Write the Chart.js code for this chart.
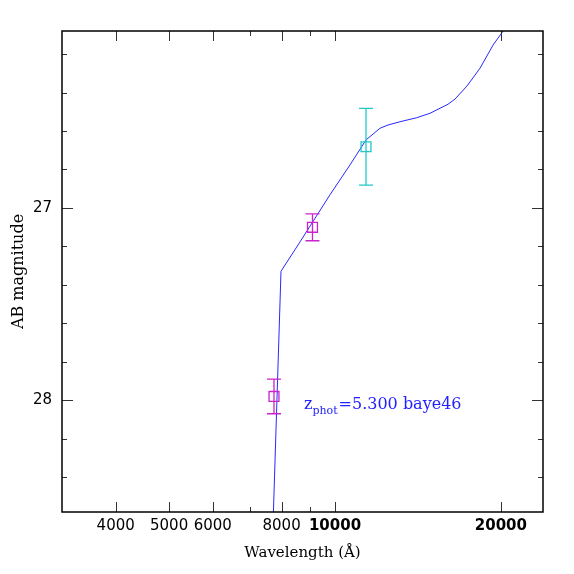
<!DOCTYPE html>
<html><head><meta charset="utf-8">
<script src="https://cdn.jsdelivr.net/npm/chart.js@4.4.1/dist/chart.umd.min.js"></script>
<style>html,body{margin:0;padding:0;background:#fff}#wrap{width:574px;height:574px}</style>
</head><body><div id="wrap"><canvas id="c" width="574" height="574"></canvas></div>
<script>
// Model SED (wavelength in Angstrom, AB magnitude)
const SED_LAMBDA = [7650, 7980, 8640, 9793, 10646, 11382, 12067, 12480, 13122, 14073, 14873, 16036, 16513, 17363, 18337, 19359, 20180, 21040];
const SED_MAG    = [29.0, 27.33, 27.177, 26.932, 26.777, 26.647, 26.586, 26.569, 26.552, 26.531, 26.508, 26.461, 26.434, 26.366, 26.273, 26.153, 26.081, 25.992];
// Photometry points
const PHOT_LAMBDA = [7750, 9103, 11384];
const PHOT_MAG    = [27.981, 27.101, 26.682];
const PHOT_ERR    = [0.09, 0.07, 0.20];
const PHOT_COLOR  = ['#cc22cc', '#cc22cc', '#22c8c8'];
// Axis ticks
const X_TICKS = [4000, 5000, 6000, 8000, 10000, 20000];
const X_MINOR = [7000, 9000];
const Y_TICKS = [27, 28];
const Y_MINOR = [26.2, 26.4, 26.6, 26.8, 27.2, 27.4, 27.6, 27.8, 28.2, 28.4];
// Annotation
const LABEL_MAIN = 'z';
const LABEL_SUB = 'phot';
const LABEL_REST = '=5.300 baye46';
const LABEL_AT = {lambda: 8785, mag: 28.044};

const decor = {
  id: 'decor',
  afterDatasetsDraw(chart) {
    const ctx = chart.ctx, xs = chart.scales.x, ys = chart.scales.y;
    ctx.save();
    ctx.lineWidth = 1.3;
    PHOT_LAMBDA.forEach((l, i) => {
      const px = xs.getPixelForValue(l);
      const p1 = ys.getPixelForValue(PHOT_MAG[i] - PHOT_ERR[i]);
      const p2 = ys.getPixelForValue(PHOT_MAG[i] + PHOT_ERR[i]);
      ctx.strokeStyle = PHOT_COLOR[i];
      ctx.beginPath();
      ctx.moveTo(px, p1); ctx.lineTo(px, p2);
      ctx.moveTo(px - 7, p1); ctx.lineTo(px + 7, p1);
      ctx.moveTo(px - 7, p2); ctx.lineTo(px + 7, p2);
      ctx.stroke();
    });
    ctx.restore();
  },
  afterDraw(chart) {
    const ctx = chart.ctx, xs = chart.scales.x, ys = chart.scales.y, a = chart.chartArea;
    ctx.save();
    ctx.strokeStyle = '#333';
    ctx.lineWidth = 1;
    const seg = (x1, y1, x2, y2) => { ctx.beginPath(); ctx.moveTo(x1, y1); ctx.lineTo(x2, y2); ctx.stroke(); };
    const xt = (v, len) => { const p = Math.round(xs.getPixelForValue(v)) + 0.5; seg(p, a.bottom, p, a.bottom - len); seg(p, a.top, p, a.top + len); };
    const yt = (v, len) => { const p = Math.round(ys.getPixelForValue(v)) + 0.5; seg(a.left, p, a.left + len, p); seg(a.right, p, a.right - len, p); };
    X_TICKS.forEach(v => xt(v, 10));
    X_MINOR.forEach(v => xt(v, 5));
    Y_TICKS.forEach(v => yt(v, 11));
    Y_MINOR.forEach(v => yt(v, 5));
    ctx.strokeStyle = '#000';
    ctx.lineWidth = 1.5;
    ctx.strokeRect(a.left, a.top, a.right - a.left, a.bottom - a.top);
    // annotation
    const ax = xs.getPixelForValue(LABEL_AT.lambda), ay = ys.getPixelForValue(LABEL_AT.mag);
    ctx.fillStyle = '#2222ff';
    ctx.textAlign = 'left';
    ctx.textBaseline = 'alphabetic';
    ctx.font = '16px "DejaVu Serif"';
    ctx.fillText(LABEL_MAIN, ax, ay);
    let w = ctx.measureText(LABEL_MAIN).width;
    ctx.font = '11px "DejaVu Serif"';
    ctx.fillText(LABEL_SUB, ax + w, ay + 5);
    w += ctx.measureText(LABEL_SUB).width;
    ctx.font = '16px "DejaVu Serif"';
    ctx.fillText(LABEL_REST, ax + w + 1, ay);
    ctx.restore();
  }
};

new Chart(document.getElementById('c'), {
  type: 'line',
  data: {
    datasets: [
      {
        type: 'line',
        data: SED_LAMBDA.map((x, i) => ({x, y: SED_MAG[i]})),
        borderColor: 'rgb(40,40,255)',
        borderWidth: 1,
        pointRadius: 0,
        tension: 0,
        fill: false,
        order: 2
      },
      {
        type: 'scatter',
        data: PHOT_LAMBDA.map((x, i) => ({x, y: PHOT_MAG[i]})),
        pointStyle: 'rect',
        pointRadius: 7,
        pointBorderColor: PHOT_COLOR,
        pointBackgroundColor: 'rgba(0,0,0,0)',
        pointBorderWidth: 1.3,
        showLine: false,
        order: 1
      }
    ]
  },
  options: {
    responsive: false,
    animation: false,
    layout: {padding: {top: 31, right: 31, left: 0, bottom: 0}},
    plugins: {legend: {display: false}, tooltip: {enabled: false}},
    scales: {
      x: {
        type: 'logarithmic',
        position: 'bottom',
        min: 3196,
        max: 23850,
        afterBuildTicks: s => { s.ticks = X_TICKS.map(v => ({value: v})); },
        afterFit: s => { s.height = 62; },
        ticks: {
          autoSkip: false, maxRotation: 0, minRotation: 0, padding: 5, color: '#000',
          font: c => ({family: 'DejaVu Sans', size: 15, weight: (c.tick && c.tick.value >= 10000) ? 'bold' : 'normal'}),
          callback: v => String(v)
        },
        grid: {display: false, drawTicks: false},
        border: {display: false},
        title: {display: true, text: 'Wavelength (Å)', color: '#000', font: {family: 'DejaVu Serif', size: 15}, padding: 12}
      },
      y: {
        type: 'linear',
        position: 'left',
        reverse: true,
        min: 26.08,
        max: 28.582,
        afterBuildTicks: s => { s.ticks = Y_TICKS.map(v => ({value: v})); },
        afterFit: s => { s.width = 62; },
        ticks: {padding: 10, color: '#000', font: {family: 'DejaVu Sans', size: 15}, callback: v => String(v)},
        grid: {display: false, drawTicks: false},
        border: {display: false},
        title: {display: true, text: 'AB magnitude', color: '#000', font: {family: 'DejaVu Serif', size: 16}, padding: 9}
      }
    }
  },
  plugins: [decor]
});
</script>
</body></html>
